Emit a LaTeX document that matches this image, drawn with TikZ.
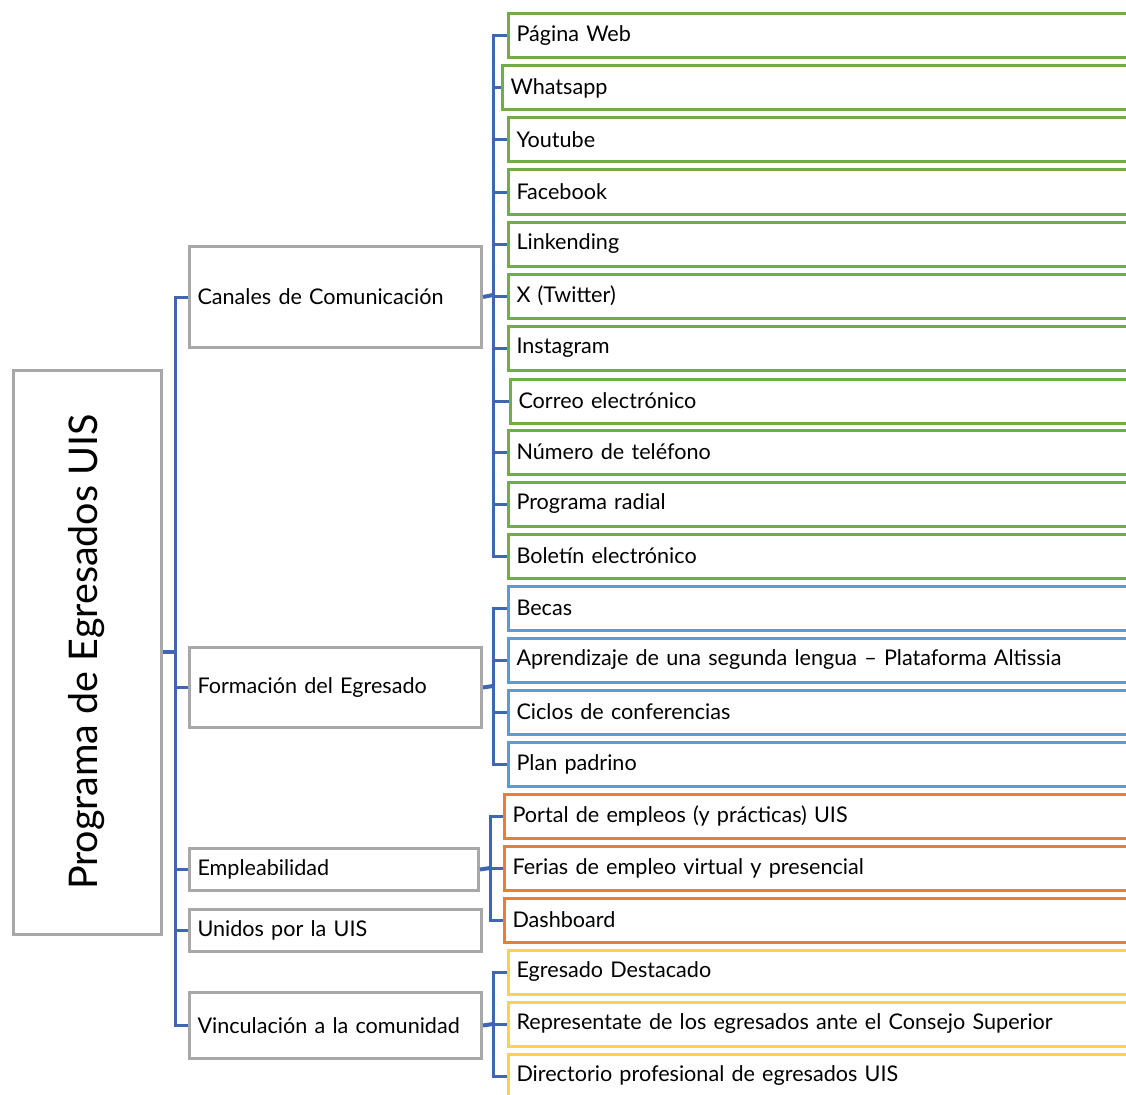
\documentclass[tikz,border=0pt]{standalone}
\usepackage{fontspec}
\setmainfont{Lato}
\usetikzlibrary{calc}
\definecolor{conn}{HTML}{3F67B1}
\definecolor{gbox}{HTML}{A8A8A8}
\definecolor{cgreen}{HTML}{70AD47}
\definecolor{cblue}{HTML}{5B9BD5}
\definecolor{corange}{HTML}{ED7D31}
\definecolor{cyellow}{HTML}{FFD24D}
\begin{document}
\begin{tikzpicture}[x=1pt,y=-1pt,
  every node/.style={font=\fontsize{21.6}{25}\selectfont},
  mid/.style={draw=gbox,line width=3pt,anchor=north west,inner xsep=8pt,inner ysep=0pt,align=left,text width=#1},
  leaf/.style={draw=#1,line width=3pt,anchor=west,minimum height=44pt,inner xsep=8pt,inner ysep=0pt,text width=684pt,align=left},
  cn/.style={draw=conn,line width=3pt}]
\useasboundingbox (0,0) rectangle (1126,1094);
\clip (0,0) rectangle (1126,1094);
% main
\node[draw=gbox,line width=3pt,rotate=90,minimum width=564pt,minimum height=148pt,inner sep=0pt,font=\fontsize{39.5}{44}\selectfont] (main) at (87,652) {Programa de Egresados UIS};
% middle
\node[mid=276pt,minimum height=101pt] (can) at (188,245) {Canales de Comunicación};
\node[mid=276pt,minimum height=80pt] (for) at (188,646) {Formación del Egresado};
\node[mid=273pt,minimum height=42pt] (emp) at (188,847) {Empleabilidad};
\node[mid=276pt,minimum height=42pt] (uni) at (188,908) {Unidos por la UIS};
\node[mid=276pt,minimum height=66pt] (vin) at (188,991) {Vinculación a la comunidad};
% leaves
\node[leaf=cgreen] (l1) at (507,36) {Página Web};
\node[leaf=cgreen] (l2) at (501,88) {Whatsapp};
\node[leaf=cgreen] (l3) at (507,140) {Youtube};
\node[leaf=cgreen] (l4) at (507,192) {Facebook};
\node[leaf=cgreen] (l5) at (507,244) {Linkending};
\node[leaf=cgreen] (l6) at (507,296) {X (Twitter)};
\node[leaf=cgreen] (l7) at (507,348) {Instagram};
\node[leaf=cgreen] (l8) at (509,401) {Correo electrónico};
\node[leaf=cgreen] (l9) at (507,452) {Número de teléfono};
\node[leaf=cgreen] (l10) at (507,504) {Programa radial};
\node[leaf=cgreen] (l11) at (507,556) {Boletín electrónico};
\node[leaf=cblue] (b1) at (507,608) {Becas};
\node[leaf=cblue] (b2) at (507,660) {Aprendizaje de una segunda lengua – Plataforma Altissia};
\node[leaf=cblue] (b3) at (507,712) {Ciclos de conferencias};
\node[leaf=cblue] (b4) at (507,764) {Plan padrino};
\node[leaf=corange] (o1) at (503,816) {Portal de empleos (y prácticas) UIS};
\node[leaf=corange] (o2) at (503,868) {Ferias de empleo virtual y presencial};
\node[leaf=corange] (o3) at (503,920) {Dashboard};
\node[leaf=cyellow] (y1) at (507,972) {Egresado Destacado};
\node[leaf=cyellow] (y2) at (507,1024) {Representate de los egresados ante el Consejo Superior};
\node[leaf=cyellow] (y3) at (507,1076) {Directorio profesional de egresados UIS};
% connectors
\coordinate (mc) at (175,652);
\draw[cn,line width=4pt] (main.south) -- (mc);
\foreach \n in {can,for,emp,uni,vin} \draw[cn] (mc) |- (\n.west);
\coordinate (cc) at (493,295);
\draw[cn,line width=4pt] (can.east) -- (cc);
\foreach \n in {l1,l2,l3,l4,l5,l6,l7,l8,l9,l10,l11} \draw[cn] (cc) |- (\n.west);
\coordinate (fc) at (493,686);
\draw[cn,line width=4pt] (for.east) -- (fc);
\foreach \n in {b1,b2,b3,b4} \draw[cn] (fc) |- (\n.west);
\coordinate (ec) at (490,868);
\draw[cn,line width=4pt] (emp.east) -- (ec);
\foreach \n in {o1,o2,o3} \draw[cn] (ec) |- (\n.west);
\coordinate (vc) at (493,1024);
\draw[cn,line width=4pt] (vin.east) -- (vc);
\foreach \n in {y1,y2,y3} \draw[cn] (vc) |- (\n.west);
\end{tikzpicture}
\end{document}
